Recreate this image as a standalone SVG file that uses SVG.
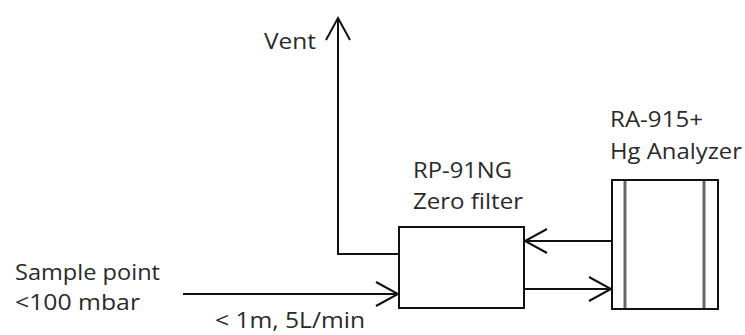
<svg xmlns="http://www.w3.org/2000/svg" width="745" height="335" viewBox="0 0 745 335">
  <style>
    .lbl { font-family: "Open Sans", "Liberation Sans", sans-serif; font-size: 22px; fill: #2a2a2a; }
    .ln { fill: none; stroke: #111; stroke-width: 2; }
    .box { fill: #fff; stroke: #111; stroke-width: 2; }
    .inner { stroke: #666; stroke-width: 3; }
  </style>
  <defs>
    <marker id="chev" markerUnits="userSpaceOnUse" markerWidth="30" markerHeight="30" refX="0" refY="0" viewBox="-26 -15 30 30" orient="auto" overflow="visible">
      <path d="M-22,-12 L0,0 L-22,12" fill="none" stroke="#111" stroke-width="2"/>
    </marker>
  </defs>
  <rect width="745" height="335" fill="#fff"/>

  <g id="connectors">
    <path class="ln" d="M399,254 H338 V18" marker-end="url(#chev)"/>
    <path class="ln" d="M612,241 H525" marker-end="url(#chev)"/>
    <path class="ln" d="M524,289 H611" marker-end="url(#chev)"/>
    <path class="ln" d="M183,294 H398" marker-end="url(#chev)"/>
  </g>

  <g id="vent">
    <text class="lbl" x="264" y="49" textLength="52" lengthAdjust="spacingAndGlyphs">Vent</text>
  </g>

  <g id="filter">
    <rect class="box" x="399" y="227" width="125" height="81"/>
    <text class="lbl" x="413" y="178" textLength="99" lengthAdjust="spacingAndGlyphs">RP-91NG</text>
    <text class="lbl" x="413" y="209" textLength="110" lengthAdjust="spacingAndGlyphs">Zero filter</text>
  </g>

  <g id="analyzer">
    <rect class="box" x="612" y="180" width="106" height="129"/>
    <line class="inner" x1="625" y1="181" x2="625" y2="308"/>
    <line class="inner" x1="704" y1="181" x2="704" y2="308"/>
    <text class="lbl" x="610" y="127" textLength="93" lengthAdjust="spacingAndGlyphs">RA-915+</text>
    <text class="lbl" x="610" y="159" textLength="132" lengthAdjust="spacingAndGlyphs">Hg Analyzer</text>
  </g>

  <g id="sample">
    <text class="lbl" x="15" y="280" textLength="145" lengthAdjust="spacingAndGlyphs">Sample point</text>
    <text class="lbl" x="15" y="310" textLength="125" lengthAdjust="spacingAndGlyphs">&lt;100 mbar</text>
  </g>

  <g id="flow-label">
    <text class="lbl" x="215" y="328" textLength="150" lengthAdjust="spacingAndGlyphs">&lt; 1m, 5L/min</text>
  </g>
</svg>
